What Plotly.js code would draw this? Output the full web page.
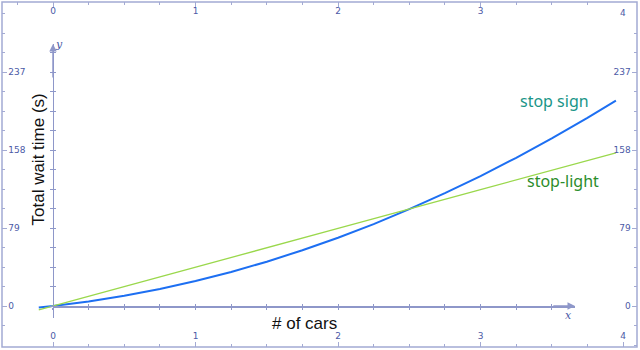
<!DOCTYPE html>
<html>
<head>
<meta charset="utf-8">
<script src="https://cdn.plot.ly/plotly-3.0.1.min.js"></script>
<style>html,body{margin:0;padding:0;background:#fff;}#chart{width:640px;height:350px;}</style>
</head>
<body>
<div id="chart"></div>
<script>
// Data
const signX = [-0.1, 0, 0.25, 0.5, 0.75, 1, 1.25, 1.5, 1.75, 2, 2.25, 2.5, 2.75, 3, 3.25, 3.5, 3.75, 3.95];
const signY = [-1.5, 0, 4.6, 10.3, 17.2, 25.3, 34.5, 44.9, 56.5, 69.2, 83.0, 98.1, 114.3, 131.6, 150.1, 169.8, 190.6, 208.1];
const lightX = [-0.1, 0, 1, 2, 3, 3.95];
const lightY = [-3.9, 0, 39.3, 78.6, 117.9, 155.2];
const xTicks = [0, 1, 2, 3, 4];
const yTicks = [0, 79, 158, 237];
const seriesNames = ['stop sign', 'stop-light'];
const xTitle = '# of cars';
const yTitle = 'Total wait time (s)';

const frameColor = '#a3aad3';
const labelColor = '#4b5aa6';
const axisColor = '#8e97c9';
const XR = [-0.358, 4.098];
const YR = [-41.5, 307.9];
const tickFont = {family: 'DejaVu Sans', size: 9, color: labelColor};

const traces = [
  {x: signX, y: signY, mode: 'lines', name: seriesNames[0], line: {color: '#1d6ff2', width: 2}, hoverinfo: 'skip'},
  {x: lightX, y: lightY, mode: 'lines', name: seriesNames[1], line: {color: '#9ad84c', width: 1.3}, hoverinfo: 'skip'},
  // empty helper traces so that the mirrored frame axes and the inner axes are drawn
  {x: [], y: [], xaxis: 'x2', yaxis: 'y2', mode: 'lines', hoverinfo: 'skip'},
  {x: [], y: [], xaxis: 'x3', yaxis: 'y3', mode: 'lines', hoverinfo: 'skip'},
  {x: [], y: [], xaxis: 'x4', yaxis: 'y4', mode: 'lines', hoverinfo: 'skip'}
];

const frameAxis = {
  showline: false, showgrid: false, zeroline: false, ticks: 'inside', ticklen: 5, tickcolor: frameColor, tickwidth: 1,
  ticklabelposition: 'inside', tickfont: tickFont
};
const xMinor = {dtick: 0.25, tick0: 0, ticks: 'inside', ticklen: 3, tickcolor: frameColor};
const yMinor = {dtick: 19.75, tick0: 0, ticks: 'inside', ticklen: 3, tickcolor: frameColor};

const innerX = {anchor: 'free', position: 0.1188, domain: [0.0803, 0.9024], range: [0, 3.663],
  showgrid: false, zeroline: false, showticklabels: false, ticklen: 2.5, tickcolor: axisColor, tickwidth: 1, dtick: 0.25, tick0: 0};
const innerY = {anchor: 'free', position: 0.0803, domain: [0.084, 0.878], range: [-12.15, 265.4],
  showgrid: false, zeroline: false, showticklabels: false, ticklen: 2.5, tickcolor: axisColor, tickwidth: 1, dtick: 19.75, tick0: 0};

const layout = {
  width: 640, height: 350,
  margin: {l: 2, r: 3, t: 2, b: 3},
  paper_bgcolor: '#ffffff', plot_bgcolor: 'rgba(0,0,0,0)',
  showlegend: false,
  xaxis: Object.assign({}, frameAxis, {range: XR, side: 'bottom', tickvals: xTicks, ticktext: xTicks.map(String), minor: xMinor}),
  xaxis2: Object.assign({}, frameAxis, {range: XR, side: 'top', overlaying: 'x', anchor: 'y2', tickvals: xTicks, ticktext: xTicks.map(String), minor: xMinor}),
  yaxis: Object.assign({}, frameAxis, {range: YR, side: 'left', tickvals: yTicks, ticktext: yTicks.map(String), minor: yMinor}),
  yaxis2: Object.assign({}, frameAxis, {range: YR, side: 'right', overlaying: 'y', anchor: 'x2', tickvals: yTicks, ticktext: yTicks.map(String), minor: yMinor}),
  // inner math-style axes (line + ticks crossing both sides)
  xaxis3: Object.assign({}, innerX, {showline: true, linecolor: axisColor, linewidth: 1.5, ticks: 'outside'}),
  yaxis3: Object.assign({}, innerY, {showline: true, linecolor: axisColor, linewidth: 1.5, ticks: 'outside'}),
  xaxis4: Object.assign({}, innerX, {showline: false, ticks: 'inside'}),
  yaxis4: Object.assign({}, innerY, {showline: false, ticks: 'inside'}),
  shapes: [
    {type: 'rect', xref: 'paper', yref: 'paper', x0: 0, x1: 1, y0: 0, y1: 1, line: {color: frameColor, width: 1.5}, fillcolor: 'rgba(0,0,0,0)', layer: 'above'}
  ],
  annotations: [
    {x: 3.663, y: 0, ax: 3.5, ay: 0, axref: 'x', ayref: 'y', xref: 'x', yref: 'y', text: '', showarrow: true,
      arrowhead: 2, arrowsize: 1, arrowwidth: 1.5, arrowcolor: axisColor, standoff: 0},
    {x: 0, y: 265.4, ax: 0, ay: 230, axref: 'x', ayref: 'y', xref: 'x', yref: 'y', text: '', showarrow: true,
      arrowhead: 2, arrowsize: 1, arrowwidth: 1.5, arrowcolor: axisColor, standoff: 0},
    // top-right tick label that the overlaid axis hides
    {x: xTicks[4], y: 1, xref: 'x', yref: 'paper', yanchor: 'top', yshift: -4, text: String(xTicks[4]), showarrow: false, font: tickFont},
    {x: 3.62, y: -10, xref: 'x', yref: 'y', text: 'x', showarrow: false,
      font: {family: 'DejaVu Serif', size: 11, color: labelColor, style: 'italic'}},
    {x: 0.045, y: 265, xref: 'x', yref: 'y', text: 'y', showarrow: false,
      font: {family: 'DejaVu Serif', size: 11, color: labelColor, style: 'italic'}},
    {x: 3.52, y: 207.7, xref: 'x', yref: 'y', text: seriesNames[0], showarrow: false,
      font: {family: 'Noto Sans', size: 16, color: '#1a9588'}},
    {x: 3.58, y: 126.6, xref: 'x', yref: 'y', text: seriesNames[1], showarrow: false,
      font: {family: 'Noto Sans', size: 16, color: '#2b8d2b'}},
    {x: 0.477, y: 0.068, xref: 'paper', yref: 'paper', xanchor: 'center', yanchor: 'middle', text: xTitle, showarrow: false,
      font: {family: 'Liberation Sans', size: 17, color: '#111'}},
    {x: 0.0567, y: 0.5435, xref: 'paper', yref: 'paper', xanchor: 'center', yanchor: 'middle', text: yTitle, showarrow: false, textangle: -90,
      font: {family: 'Liberation Sans', size: 17, color: '#111'}}
  ]
};

Plotly.newPlot('chart', traces, layout, {staticPlot: true, displayModeBar: false});
</script>
</body>
</html>
